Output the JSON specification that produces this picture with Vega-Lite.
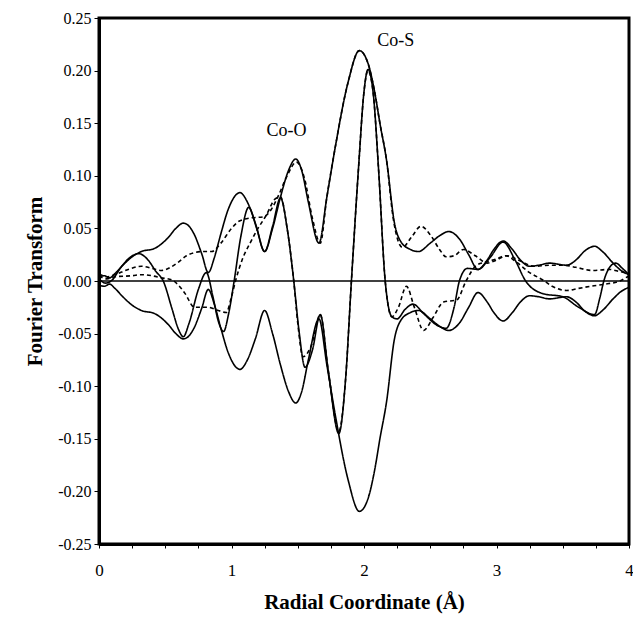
{
  "$schema": "https://vega.github.io/schema/vega-lite/v6.json",
  "width": 530,
  "height": 526,
  "autosize": {"type": "none"},
  "padding": {"left": 99, "top": 18, "right": 4, "bottom": 75},
  "background": "white",
  "config": {
    "view": {"stroke": "black", "strokeWidth": 3},
    "font": "Liberation Serif",
    "axis": {
      "domainColor": "black", "domainWidth": 3, "tickColor": "black", "tickWidth": 1,
      "labelColor": "black", "titleColor": "black", "grid": false,
      "labelFont": "Liberation Serif", "titleFont": "Liberation Serif",
      "titleFontWeight": "bold", "titleFontSize": 21, "labelFontSize": 17
    }
  },
  "datasets": {
    "curves": [
      {"s": "env", "r": 0.00, "v": 0.004}, {"s": "env", "r": 0.04, "v": 0.005}, {"s": "env", "r": 0.08, "v": 0.003},
      {"s": "env", "r": 0.12, "v": 0.007}, {"s": "env", "r": 0.18, "v": 0.015}, {"s": "env", "r": 0.25, "v": 0.023},
      {"s": "env", "r": 0.32, "v": 0.028}, {"s": "env", "r": 0.42, "v": 0.031}, {"s": "env", "r": 0.52, "v": 0.041},
      {"s": "env", "r": 0.58, "v": 0.050}, {"s": "env", "r": 0.636, "v": 0.055}, {"s": "env", "r": 0.68, "v": 0.052},
      {"s": "env", "r": 0.72, "v": 0.044}, {"s": "env", "r": 0.775, "v": 0.026}, {"s": "env", "r": 0.825, "v": 0.008},
      {"s": "env", "r": 0.87, "v": 0.022}, {"s": "env", "r": 0.92, "v": 0.045}, {"s": "env", "r": 0.975, "v": 0.068},
      {"s": "env", "r": 1.064, "v": 0.084}, {"s": "env", "r": 1.12, "v": 0.075}, {"s": "env", "r": 1.18, "v": 0.055},
      {"s": "env", "r": 1.25, "v": 0.028}, {"s": "env", "r": 1.31, "v": 0.050}, {"s": "env", "r": 1.37, "v": 0.080},
      {"s": "env", "r": 1.43, "v": 0.105}, {"s": "env", "r": 1.485, "v": 0.116}, {"s": "env", "r": 1.53, "v": 0.105},
      {"s": "env", "r": 1.58, "v": 0.075}, {"s": "env", "r": 1.66, "v": 0.036}, {"s": "env", "r": 1.72, "v": 0.080},
      {"s": "env", "r": 1.78, "v": 0.125}, {"s": "env", "r": 1.88, "v": 0.189}, {"s": "env", "r": 1.965, "v": 0.219},
      {"s": "env", "r": 2.03, "v": 0.207}, {"s": "env", "r": 2.08, "v": 0.180}, {"s": "env", "r": 2.12, "v": 0.150},
      {"s": "env", "r": 2.17, "v": 0.115}, {"s": "env", "r": 2.23, "v": 0.055}, {"s": "env", "r": 2.28, "v": 0.037},
      {"s": "env", "r": 2.35, "v": 0.030}, {"s": "env", "r": 2.41, "v": 0.028}, {"s": "env", "r": 2.50, "v": 0.036},
      {"s": "env", "r": 2.57, "v": 0.043}, {"s": "env", "r": 2.64, "v": 0.047}, {"s": "env", "r": 2.72, "v": 0.040},
      {"s": "env", "r": 2.79, "v": 0.025}, {"s": "env", "r": 2.86, "v": 0.011}, {"s": "env", "r": 2.93, "v": 0.020},
      {"s": "env", "r": 2.98, "v": 0.030}, {"s": "env", "r": 3.05, "v": 0.038}, {"s": "env", "r": 3.12, "v": 0.030},
      {"s": "env", "r": 3.18, "v": 0.020}, {"s": "env", "r": 3.25, "v": 0.014}, {"s": "env", "r": 3.32, "v": 0.015},
      {"s": "env", "r": 3.40, "v": 0.017}, {"s": "env", "r": 3.53, "v": 0.015}, {"s": "env", "r": 3.60, "v": 0.020},
      {"s": "env", "r": 3.67, "v": 0.029}, {"s": "env", "r": 3.74, "v": 0.033}, {"s": "env", "r": 3.80, "v": 0.028},
      {"s": "env", "r": 3.88, "v": 0.017}, {"s": "env", "r": 3.94, "v": 0.010}, {"s": "env", "r": 4.00, "v": 0.006},

      {"s": "neg", "r": 0.00, "v": -0.004}, {"s": "neg", "r": 0.04, "v": -0.005}, {"s": "neg", "r": 0.08, "v": -0.003},
      {"s": "neg", "r": 0.12, "v": -0.007}, {"s": "neg", "r": 0.18, "v": -0.015}, {"s": "neg", "r": 0.25, "v": -0.023},
      {"s": "neg", "r": 0.32, "v": -0.028}, {"s": "neg", "r": 0.42, "v": -0.031}, {"s": "neg", "r": 0.52, "v": -0.041},
      {"s": "neg", "r": 0.58, "v": -0.050}, {"s": "neg", "r": 0.636, "v": -0.055}, {"s": "neg", "r": 0.68, "v": -0.052},
      {"s": "neg", "r": 0.72, "v": -0.044}, {"s": "neg", "r": 0.775, "v": -0.026}, {"s": "neg", "r": 0.825, "v": -0.008},
      {"s": "neg", "r": 0.87, "v": -0.022}, {"s": "neg", "r": 0.92, "v": -0.045}, {"s": "neg", "r": 0.975, "v": -0.068},
      {"s": "neg", "r": 1.064, "v": -0.084}, {"s": "neg", "r": 1.12, "v": -0.075}, {"s": "neg", "r": 1.18, "v": -0.055},
      {"s": "neg", "r": 1.25, "v": -0.028}, {"s": "neg", "r": 1.31, "v": -0.050}, {"s": "neg", "r": 1.37, "v": -0.080},
      {"s": "neg", "r": 1.43, "v": -0.105}, {"s": "neg", "r": 1.485, "v": -0.116}, {"s": "neg", "r": 1.53, "v": -0.105},
      {"s": "neg", "r": 1.58, "v": -0.075}, {"s": "neg", "r": 1.66, "v": -0.036}, {"s": "neg", "r": 1.72, "v": -0.080},
      {"s": "neg", "r": 1.78, "v": -0.125}, {"s": "neg", "r": 1.88, "v": -0.189}, {"s": "neg", "r": 1.965, "v": -0.219},
      {"s": "neg", "r": 2.03, "v": -0.207}, {"s": "neg", "r": 2.08, "v": -0.180}, {"s": "neg", "r": 2.12, "v": -0.150},
      {"s": "neg", "r": 2.17, "v": -0.115}, {"s": "neg", "r": 2.23, "v": -0.055}, {"s": "neg", "r": 2.28, "v": -0.037},
      {"s": "neg", "r": 2.35, "v": -0.030}, {"s": "neg", "r": 2.41, "v": -0.028}, {"s": "neg", "r": 2.50, "v": -0.036},
      {"s": "neg", "r": 2.57, "v": -0.043}, {"s": "neg", "r": 2.64, "v": -0.047}, {"s": "neg", "r": 2.72, "v": -0.040},
      {"s": "neg", "r": 2.79, "v": -0.025}, {"s": "neg", "r": 2.86, "v": -0.011}, {"s": "neg", "r": 2.93, "v": -0.020},
      {"s": "neg", "r": 2.98, "v": -0.030}, {"s": "neg", "r": 3.05, "v": -0.038}, {"s": "neg", "r": 3.12, "v": -0.030},
      {"s": "neg", "r": 3.18, "v": -0.020}, {"s": "neg", "r": 3.25, "v": -0.014}, {"s": "neg", "r": 3.32, "v": -0.015},
      {"s": "neg", "r": 3.40, "v": -0.017}, {"s": "neg", "r": 3.53, "v": -0.015}, {"s": "neg", "r": 3.60, "v": -0.020},
      {"s": "neg", "r": 3.67, "v": -0.029}, {"s": "neg", "r": 3.74, "v": -0.033}, {"s": "neg", "r": 3.80, "v": -0.028},
      {"s": "neg", "r": 3.88, "v": -0.017}, {"s": "neg", "r": 3.94, "v": -0.010}, {"s": "neg", "r": 4.00, "v": -0.006},

      {"s": "imag", "r": 0.00, "v": 0.002}, {"s": "imag", "r": 0.05, "v": -0.002}, {"s": "imag", "r": 0.10, "v": 0.001},
      {"s": "imag", "r": 0.16, "v": 0.012}, {"s": "imag", "r": 0.23, "v": 0.022}, {"s": "imag", "r": 0.30, "v": 0.026},
      {"s": "imag", "r": 0.37, "v": 0.020}, {"s": "imag", "r": 0.43, "v": 0.009}, {"s": "imag", "r": 0.485, "v": 0.0},
      {"s": "imag", "r": 0.55, "v": -0.026}, {"s": "imag", "r": 0.60, "v": -0.046}, {"s": "imag", "r": 0.636, "v": -0.053},
      {"s": "imag", "r": 0.68, "v": -0.040}, {"s": "imag", "r": 0.75, "v": -0.008}, {"s": "imag", "r": 0.81, "v": 0.008},
      {"s": "imag", "r": 0.86, "v": -0.015}, {"s": "imag", "r": 0.90, "v": -0.038}, {"s": "imag", "r": 0.94, "v": -0.048},
      {"s": "imag", "r": 0.98, "v": -0.030}, {"s": "imag", "r": 1.02, "v": 0.0}, {"s": "imag", "r": 1.07, "v": 0.042},
      {"s": "imag", "r": 1.13, "v": 0.070}, {"s": "imag", "r": 1.19, "v": 0.050}, {"s": "imag", "r": 1.25, "v": 0.028},
      {"s": "imag", "r": 1.31, "v": 0.052}, {"s": "imag", "r": 1.37, "v": 0.079}, {"s": "imag", "r": 1.42, "v": 0.050},
      {"s": "imag", "r": 1.47, "v": 0.0}, {"s": "imag", "r": 1.51, "v": -0.048}, {"s": "imag", "r": 1.555, "v": -0.082},
      {"s": "imag", "r": 1.61, "v": -0.066}, {"s": "imag", "r": 1.67, "v": -0.032}, {"s": "imag", "r": 1.73, "v": -0.085},
      {"s": "imag", "r": 1.81, "v": -0.145}, {"s": "imag", "r": 1.86, "v": -0.095}, {"s": "imag", "r": 1.905, "v": 0.0},
      {"s": "imag", "r": 1.96, "v": 0.110}, {"s": "imag", "r": 2.00, "v": 0.180}, {"s": "imag", "r": 2.03, "v": 0.201},
      {"s": "imag", "r": 2.07, "v": 0.178}, {"s": "imag", "r": 2.11, "v": 0.106}, {"s": "imag", "r": 2.16, "v": 0.0},
      {"s": "imag", "r": 2.21, "v": -0.034}, {"s": "imag", "r": 2.25, "v": -0.036}, {"s": "imag", "r": 2.31, "v": -0.027},
      {"s": "imag", "r": 2.37, "v": -0.022}, {"s": "imag", "r": 2.45, "v": -0.031}, {"s": "imag", "r": 2.55, "v": -0.042},
      {"s": "imag", "r": 2.62, "v": -0.045}, {"s": "imag", "r": 2.68, "v": -0.025}, {"s": "imag", "r": 2.72, "v": 0.0},
      {"s": "imag", "r": 2.78, "v": 0.012}, {"s": "imag", "r": 2.86, "v": 0.011}, {"s": "imag", "r": 2.95, "v": 0.022},
      {"s": "imag", "r": 3.05, "v": 0.037}, {"s": "imag", "r": 3.14, "v": 0.020}, {"s": "imag", "r": 3.22, "v": 0.0},
      {"s": "imag", "r": 3.35, "v": -0.012}, {"s": "imag", "r": 3.50, "v": -0.015}, {"s": "imag", "r": 3.62, "v": -0.025},
      {"s": "imag", "r": 3.74, "v": -0.032}, {"s": "imag", "r": 3.78, "v": -0.016}, {"s": "imag", "r": 3.81, "v": 0.0},
      {"s": "imag", "r": 3.86, "v": 0.014}, {"s": "imag", "r": 3.90, "v": 0.017}, {"s": "imag", "r": 3.95, "v": 0.012},
      {"s": "imag", "r": 4.00, "v": 0.006},

      {"s": "fitmag", "r": 0.00, "v": 0.007}, {"s": "fitmag", "r": 0.06, "v": 0.004}, {"s": "fitmag", "r": 0.12, "v": 0.006},
      {"s": "fitmag", "r": 0.22, "v": 0.011}, {"s": "fitmag", "r": 0.32, "v": 0.014}, {"s": "fitmag", "r": 0.40, "v": 0.012},
      {"s": "fitmag", "r": 0.47, "v": 0.010}, {"s": "fitmag", "r": 0.54, "v": 0.013}, {"s": "fitmag", "r": 0.60, "v": 0.018},
      {"s": "fitmag", "r": 0.66, "v": 0.024}, {"s": "fitmag", "r": 0.72, "v": 0.027}, {"s": "fitmag", "r": 0.78, "v": 0.028},
      {"s": "fitmag", "r": 0.85, "v": 0.028}, {"s": "fitmag", "r": 0.92, "v": 0.036}, {"s": "fitmag", "r": 1.00, "v": 0.050},
      {"s": "fitmag", "r": 1.06, "v": 0.057}, {"s": "fitmag", "r": 1.15, "v": 0.060}, {"s": "fitmag", "r": 1.24, "v": 0.061},
      {"s": "fitmag", "r": 1.30, "v": 0.068}, {"s": "fitmag", "r": 1.35, "v": 0.080}, {"s": "fitmag", "r": 1.42, "v": 0.100},
      {"s": "fitmag", "r": 1.49, "v": 0.113}, {"s": "fitmag", "r": 1.55, "v": 0.098}, {"s": "fitmag", "r": 1.61, "v": 0.060},
      {"s": "fitmag", "r": 1.67, "v": 0.036}, {"s": "fitmag", "r": 1.72, "v": 0.080}, {"s": "fitmag", "r": 1.78, "v": 0.125},
      {"s": "fitmag", "r": 1.88, "v": 0.189}, {"s": "fitmag", "r": 1.965, "v": 0.219}, {"s": "fitmag", "r": 2.03, "v": 0.207},
      {"s": "fitmag", "r": 2.08, "v": 0.180}, {"s": "fitmag", "r": 2.12, "v": 0.150}, {"s": "fitmag", "r": 2.17, "v": 0.115},
      {"s": "fitmag", "r": 2.22, "v": 0.060}, {"s": "fitmag", "r": 2.29, "v": 0.032}, {"s": "fitmag", "r": 2.36, "v": 0.042},
      {"s": "fitmag", "r": 2.43, "v": 0.052}, {"s": "fitmag", "r": 2.50, "v": 0.044}, {"s": "fitmag", "r": 2.57, "v": 0.030},
      {"s": "fitmag", "r": 2.62, "v": 0.023}, {"s": "fitmag", "r": 2.68, "v": 0.024}, {"s": "fitmag", "r": 2.75, "v": 0.030},
      {"s": "fitmag", "r": 2.84, "v": 0.024}, {"s": "fitmag", "r": 2.93, "v": 0.017}, {"s": "fitmag", "r": 3.00, "v": 0.020},
      {"s": "fitmag", "r": 3.08, "v": 0.024}, {"s": "fitmag", "r": 3.18, "v": 0.019}, {"s": "fitmag", "r": 3.28, "v": 0.014},
      {"s": "fitmag", "r": 3.40, "v": 0.015}, {"s": "fitmag", "r": 3.50, "v": 0.015}, {"s": "fitmag", "r": 3.60, "v": 0.013},
      {"s": "fitmag", "r": 3.72, "v": 0.010}, {"s": "fitmag", "r": 3.85, "v": 0.011}, {"s": "fitmag", "r": 3.93, "v": 0.009},
      {"s": "fitmag", "r": 4.00, "v": 0.007},

      {"s": "fitimag", "r": 0.00, "v": 0.005}, {"s": "fitimag", "r": 0.06, "v": 0.002}, {"s": "fitimag", "r": 0.12, "v": 0.004},
      {"s": "fitimag", "r": 0.25, "v": 0.005}, {"s": "fitimag", "r": 0.32, "v": 0.006}, {"s": "fitimag", "r": 0.40, "v": 0.005},
      {"s": "fitimag", "r": 0.47, "v": 0.003}, {"s": "fitimag", "r": 0.55, "v": 0.001}, {"s": "fitimag", "r": 0.60, "v": -0.004},
      {"s": "fitimag", "r": 0.65, "v": -0.012}, {"s": "fitimag", "r": 0.72, "v": -0.025}, {"s": "fitimag", "r": 0.82, "v": -0.025},
      {"s": "fitimag", "r": 0.90, "v": -0.028}, {"s": "fitimag", "r": 0.96, "v": -0.030}, {"s": "fitimag", "r": 1.00, "v": -0.015},
      {"s": "fitimag", "r": 1.03, "v": 0.0}, {"s": "fitimag", "r": 1.08, "v": 0.020}, {"s": "fitimag", "r": 1.14, "v": 0.036},
      {"s": "fitimag", "r": 1.20, "v": 0.050}, {"s": "fitimag", "r": 1.26, "v": 0.062}, {"s": "fitimag", "r": 1.33, "v": 0.078},
      {"s": "fitimag", "r": 1.37, "v": 0.080}, {"s": "fitimag", "r": 1.42, "v": 0.050}, {"s": "fitimag", "r": 1.47, "v": 0.0},
      {"s": "fitimag", "r": 1.50, "v": -0.040}, {"s": "fitimag", "r": 1.54, "v": -0.072}, {"s": "fitimag", "r": 1.60, "v": -0.062},
      {"s": "fitimag", "r": 1.67, "v": -0.032}, {"s": "fitimag", "r": 1.73, "v": -0.085}, {"s": "fitimag", "r": 1.81, "v": -0.143},
      {"s": "fitimag", "r": 1.86, "v": -0.095}, {"s": "fitimag", "r": 1.905, "v": 0.0}, {"s": "fitimag", "r": 1.96, "v": 0.110},
      {"s": "fitimag", "r": 2.00, "v": 0.180}, {"s": "fitimag", "r": 2.03, "v": 0.200}, {"s": "fitimag", "r": 2.07, "v": 0.178},
      {"s": "fitimag", "r": 2.11, "v": 0.106}, {"s": "fitimag", "r": 2.16, "v": 0.0}, {"s": "fitimag", "r": 2.21, "v": -0.034},
      {"s": "fitimag", "r": 2.26, "v": -0.025}, {"s": "fitimag", "r": 2.32, "v": -0.005}, {"s": "fitimag", "r": 2.38, "v": -0.025},
      {"s": "fitimag", "r": 2.45, "v": -0.047}, {"s": "fitimag", "r": 2.52, "v": -0.035}, {"s": "fitimag", "r": 2.60, "v": -0.020},
      {"s": "fitimag", "r": 2.70, "v": -0.018}, {"s": "fitimag", "r": 2.77, "v": 0.0}, {"s": "fitimag", "r": 2.85, "v": 0.015},
      {"s": "fitimag", "r": 2.92, "v": 0.018}, {"s": "fitimag", "r": 3.00, "v": 0.021}, {"s": "fitimag", "r": 3.07, "v": 0.024},
      {"s": "fitimag", "r": 3.15, "v": 0.018}, {"s": "fitimag", "r": 3.25, "v": 0.008}, {"s": "fitimag", "r": 3.35, "v": 0.001},
      {"s": "fitimag", "r": 3.42, "v": -0.005}, {"s": "fitimag", "r": 3.53, "v": -0.009}, {"s": "fitimag", "r": 3.62, "v": -0.007},
      {"s": "fitimag", "r": 3.71, "v": -0.005}, {"s": "fitimag", "r": 3.82, "v": -0.003}, {"s": "fitimag", "r": 3.93, "v": 0.0},
      {"s": "fitimag", "r": 4.00, "v": 0.005}
    ],
    "zero": [{"r": 0, "v": 0}, {"r": 4, "v": 0}],
    "labels": [
      {"r": 1.415, "v": 0.1427, "label": "Co-O"},
      {"r": 2.24, "v": 0.2285, "label": "Co-S"}
    ]
  },
  "encoding": {
    "x": {
      "field": "r", "type": "quantitative",
      "scale": {"domain": [0, 4], "nice": false},
      "axis": {
        "title": "Radial Coordinate (Å)",
        "values": [0, 0.25, 0.5, 0.75, 1, 1.25, 1.5, 1.75, 2, 2.25, 2.5, 2.75, 3, 3.25, 3.5, 3.75, 4],
        "labelExpr": "datum.value % 1 === 0 ? format(datum.value, 'd') : ''",
        "tickSize": 4, "labelPadding": 14, "titlePadding": 13, "labelFlush": false
      }
    },
    "y": {
      "field": "v", "type": "quantitative",
      "scale": {"domain": [-0.25, 0.25], "nice": false},
      "axis": {
        "title": "Fourier Transform",
        "values": [-0.25, -0.2, -0.15, -0.1, -0.05, 0, 0.05, 0.1, 0.15, 0.2, 0.25],
        "labelExpr": "replace(format(datum.value, '.2f'), '\u2212', '-')",
        "tickSize": 5, "labelPadding": 3, "titlePadding": 12, "labelFontSize": 16, "labelFlush": false
      }
    }
  },
  "layer": [
    {
      "data": {"name": "zero"},
      "mark": {"type": "line", "color": "black", "strokeWidth": 1.5}
    },
    {
      "data": {"name": "curves"},
      "mark": {"type": "line", "interpolate": "monotone", "color": "black", "strokeWidth": 1.6},
      "encoding": {
        "detail": {"field": "s", "type": "nominal"},
        "strokeDash": {
          "field": "s", "type": "nominal",
          "scale": {"domain": ["env", "neg", "imag", "fitmag", "fitimag"], "range": [[1, 0], [1, 0], [1, 0], [4, 3], [4, 3]]},
          "legend": null
        }
      }
    },
    {
      "data": {"name": "labels"},
      "mark": {"type": "text", "font": "Liberation Serif", "fontSize": 18, "color": "black"},
      "encoding": {"text": {"field": "label", "type": "nominal"}}
    }
  ]
}
